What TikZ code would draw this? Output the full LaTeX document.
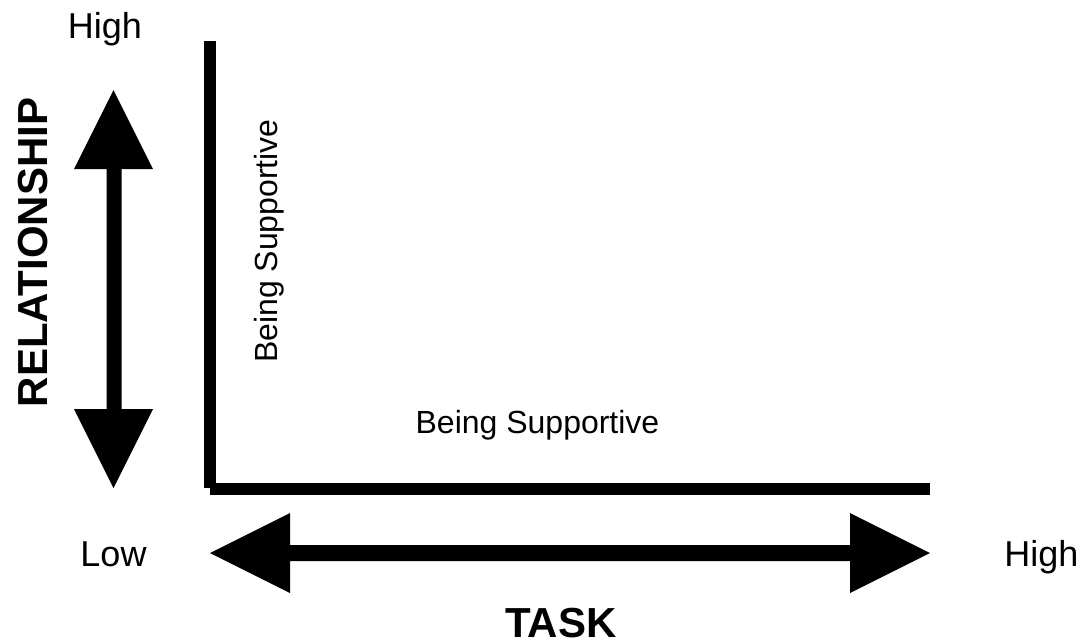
\documentclass[tikz,border=0pt]{standalone}
\usepackage{fontspec}
\setmainfont{Liberation Sans}
\begin{document}
\begin{tikzpicture}[x=1pt,y=-1pt,
  lbl/.style={inner sep=0pt,anchor=base,font=\fontsize{36}{40}\selectfont},
  sup/.style={inner sep=0pt,anchor=base,font=\fontsize{32}{36}\selectfont},
  ttl/.style={inner sep=0pt,anchor=base,font=\fontsize{42}{46}\selectfont\bfseries},
  axis/.style={line width=12pt},
  bigarrow/.style={fill=black,draw=none}]
\useasboundingbox[fill=white] (0,0) rectangle (1088,643);
% axes
\draw[axis] (210,41) -- (210,488);
\draw[axis] (210,489) -- (930,489);
% vertical double arrow
\fill[bigarrow] (113.5,90) -- (153,169) -- (121.5,169) -- (121.5,409) -- (153,409)
  -- (113.5,488) -- (74,409) -- (106.5,409) -- (106.5,169) -- (74,169) -- cycle;
% horizontal double arrow
\fill[bigarrow] (210,553) -- (290,513) -- (290,545) -- (850,545) -- (850,513)
  -- (930,553) -- (850,593) -- (850,561) -- (290,561) -- (290,593) -- cycle;
% labels
\node[lbl] (hightop) at (105,38) {High};
\node[lbl] (low) at (113.5,566) {Low};
\node[lbl] (highright) at (1041.5,566) {High};
\node[ttl] (task) at (561,637) {TASK};
\node[ttl,rotate=90] (rel) at (47,252.5) {RELATIONSHIP};
\node[sup,rotate=90] (bsv) at (277,241) {Being Supportive};
\node[sup] (bsh) at (537.5,433) {Being Supportive};
\end{tikzpicture}
\end{document}
